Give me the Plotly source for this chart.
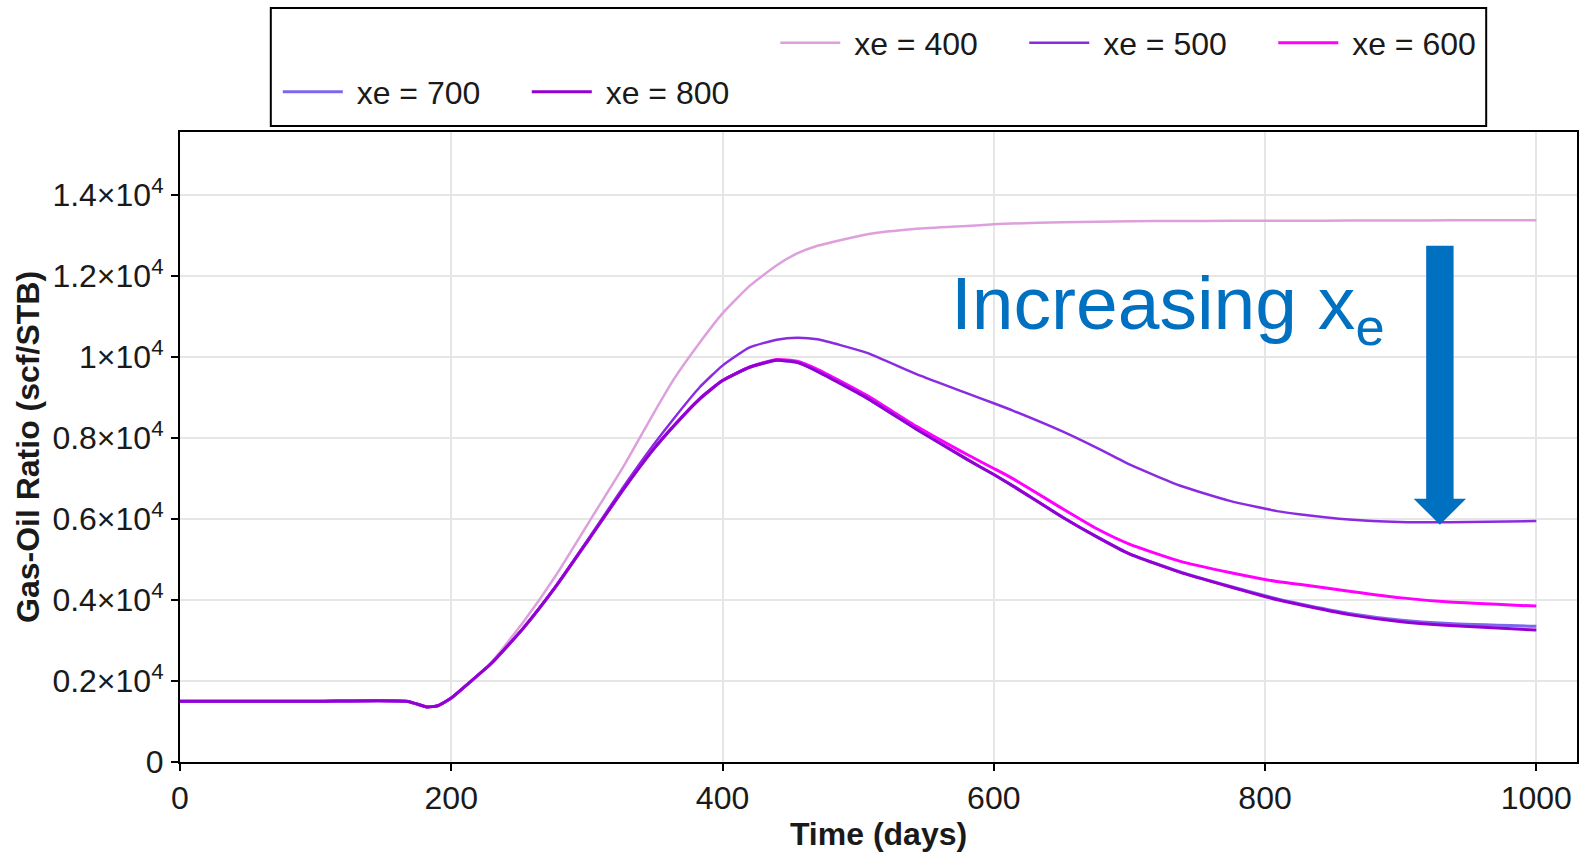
import plotly.graph_objects as go

# Simulation output: gas-oil ratio versus time for several xe values
time_days = [0, 100, 168, 182, 190, 200, 213, 230, 253, 277,
             302, 327, 349, 364, 383, 400, 420, 440, 455, 470,
             506, 543, 580, 600, 614, 651, 676, 700, 737, 774,
             810, 825, 862, 899, 936, 1000]

gor_xe400 = [1500, 1500, 1495, 1360, 1390, 1580, 1950, 2480, 3450, 4600,
             5950, 7300, 8600, 9450, 10350, 11080, 11760, 12270, 12560, 12750,
             13030, 13170, 13240, 13280, 13300, 13330, 13345, 13355, 13362, 13366,
             13368, 13370, 13372, 13375, 13378, 13383]

gor_xe500 = [1500, 1500, 1495, 1360, 1390, 1580, 1950, 2450, 3300, 4340,
             5560, 6800, 7830, 8480, 9250, 9790, 10240, 10430, 10480, 10440,
             10110, 9580, 9110, 8860, 8680, 8160, 7760, 7350, 6830, 6450,
             6190, 6120, 5990, 5930, 5920, 5950]

gor_xe600 = [1500, 1500, 1495, 1360, 1390, 1580, 1950, 2450, 3300, 4330,
             5530, 6740, 7720, 8300, 8965, 9420, 9760, 9940, 9900, 9700,
             9060, 8290, 7600, 7250, 7000, 6250, 5760, 5380, 4960, 4680,
             4450, 4390, 4220, 4060, 3950, 3850]

gor_xe700 = [1500, 1500, 1495, 1360, 1390, 1580, 1950, 2450, 3300, 4330,
             5530, 6740, 7720, 8300, 8965, 9420, 9750, 9920, 9870, 9650,
             9000, 8220, 7480, 7100, 6820, 6040, 5560, 5140, 4700, 4340,
             4020, 3910, 3670, 3510, 3420, 3350]

gor_xe800 = [1500, 1500, 1495, 1360, 1390, 1580, 1950, 2450, 3300, 4330,
             5530, 6740, 7720, 8300, 8965, 9420, 9750, 9920, 9870, 9650,
             9000, 8220, 7480, 7100, 6820, 6040, 5560, 5140, 4690, 4330,
             4000, 3890, 3640, 3470, 3370, 3260]

series_names = ["xe = 400", "xe = 500", "xe = 600", "xe = 700", "xe = 800"]
series_values = [gor_xe400, gor_xe500, gor_xe600, gor_xe700, gor_xe800]
series_colors = ["#dda0dd", "#8a2be2", "#ff00ff", "#7b68ee", "#9400d3"]
series_widths = [2.5, 2.5, 3, 3, 3]
series_legend = ["legend", "legend", "legend", "legend2", "legend2"]

x_tick_vals = [0, 200, 400, 600, 800, 1000]
y_tick_vals = [0, 2000, 4000, 6000, 8000, 10000, 12000, 14000]
y_tick_text = ["0", "0.2×10<sup>4</sup>", "0.4×10<sup>4</sup>", "0.6×10<sup>4</sup>",
               "0.8×10<sup>4</sup>", "1×10<sup>4</sup>", "1.2×10<sup>4</sup>",
               "1.4×10<sup>4</sup>"]

FONT = "Liberation Sans, Arial, sans-serif"
TEXT = "#1a1a1a"
ARROW_BLUE = "#0070c0"
NBSP = "\u00a0"

fig = go.Figure()
for name, vals, color, width, leg in zip(series_names, series_values,
                                         series_colors, series_widths, series_legend):
    fig.add_trace(go.Scatter(
        x=time_days, y=vals, name=NBSP + name, mode="lines",
        line=dict(color=color, width=width, shape="spline", smoothing=0.5),
        legend=leg,
    ))

axis_common = dict(
    showline=True, linecolor="black", linewidth=2, mirror=True,
    showgrid=True, gridcolor="#e6e6e6", gridwidth=1.5,
    ticks="outside", ticklen=7, tickwidth=2, tickcolor="black",
    tickfont=dict(family=FONT, size=32, color=TEXT),
    zeroline=False,
)

legend_common = dict(
    orientation="h", xanchor="left", yanchor="middle",
    entrywidth=174, entrywidthmode="pixels", itemwidth=60,
    font=dict(family=FONT, size=32, color=TEXT), bgcolor="rgba(0,0,0,0)",
)

fig.update_layout(
    width=1579, height=854,
    margin=dict(l=180, r=0, t=132, b=92),
    paper_bgcolor="white", plot_bgcolor="white",
    font=dict(family=FONT, color=TEXT),
    xaxis=dict(
        range=[0, 1030], tickvals=x_tick_vals,
        title=dict(text="<b>Time (days)</b>", font=dict(family=FONT, size=32, color=TEXT),
                   standoff=2),
        **axis_common,
    ),
    yaxis=dict(
        range=[0, 15560], tickvals=y_tick_vals, ticktext=y_tick_text,
        ticklabelstandoff=1,
        title=dict(text="<b>Gas-Oil Ratio (scf/STB)</b>",
                   font=dict(family=FONT, size=32, color=TEXT), standoff=3),
        **axis_common,
    ),
    legend=dict(x=0.4261, y=1.1413, **legend_common),
    legend2=dict(x=0.0700, y=1.0635, **legend_common),
    showlegend=True,
)

# Frame around both legend rows
fig.add_shape(type="rect", xref="paper", yref="paper",
              x0=0.065, x1=0.935, y0=1.0095, y1=1.1968,
              line=dict(color="black", width=2), fillcolor="rgba(0,0,0,0)")

# Trend annotation: label and downward block arrow
fig.add_annotation(
    x=567, y=11195, xref="x", yref="y", xanchor="left", yanchor="middle",
    text="Increasing x<sub>e</sub>", showarrow=False,
    font=dict(family=FONT, size=75, color=ARROW_BLUE),
)
fig.add_shape(
    type="path", xref="x", yref="y",
    path="M 918.8 12750 L 939 12750 L 939 6500 L 948.2 6500 L 928.9 5860 "
         "L 909.6 6500 L 918.8 6500 Z",
    fillcolor=ARROW_BLUE, line=dict(color=ARROW_BLUE, width=0),
)

fig.write_html("out.html")
